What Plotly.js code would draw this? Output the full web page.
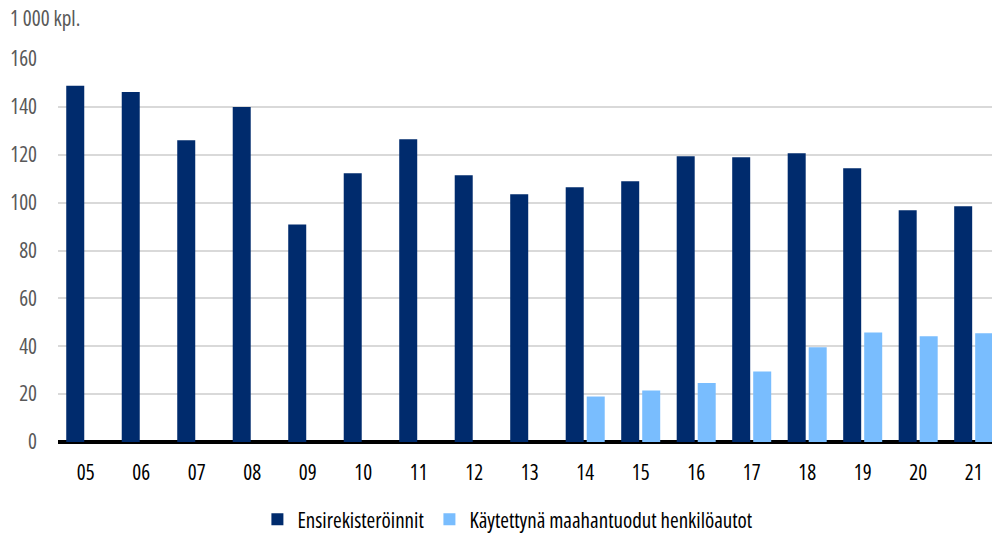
<!DOCTYPE html>
<html>
<head>
<meta charset="utf-8">
<script src="https://cdn.plot.ly/plotly-3.0.1.min.js"></script>
<style>
  html, body { margin: 0; padding: 0; background: #fff; }
  #chart { width: 992px; height: 533px; }
  svg text { font-stretch: condensed !important; }
</style>
</head>
<body>
<div id="chart"></div>
<script>
const years = ["05","06","07","08","09","10","11","12","13","14","15","16","17","18","19","20","21"];
const ensirekisteroinnit = [148.8,146.2,126.1,139.9,90.9,112.3,126.5,111.4,103.5,106.4,108.9,119.4,119.0,120.6,114.4,96.8,98.5];
const kaytettyna = [null,null,null,null,null,null,null,null,null,19.0,21.5,24.6,29.5,39.6,45.7,44.2,45.4];
const seriesNames = ["Ensirekisteröinnit", "Käytettynä maahantuodut henkilöautot"];
const yTicks = [0,20,40,60,80,100,120,140,160];
const unitLabel = "1 000 kpl.";

const FONT = '"Open Sans", "DejaVu Sans Condensed", sans-serif';

const data = [
  { type: "bar", x: years, y: ensirekisteroinnit, name: seriesNames[0],
    marker: { color: "#002b6d" }, hoverinfo: "x+y+name" },
  { type: "bar", x: years, y: kaytettyna, name: seriesNames[1],
    marker: { color: "#79bdfe" }, hoverinfo: "x+y+name" }
];

const layout = {
  width: 992, height: 533,
  margin: { l: 58, r: 0, t: 59, b: 91, pad: 0 },
  paper_bgcolor: "#ffffff", plot_bgcolor: "#ffffff",
  font: { family: FONT, size: 21, color: "#000000" },
  barmode: "group",
  bargap: 0.243,
  bargroupgap: 0.143,
  showlegend: true,
  legend: {
    orientation: "h", xref: "container", yref: "container",
    x: 0.512, xanchor: "center", y: 0.025, yanchor: "middle",
    font: { family: FONT, size: 21, color: "#000000" },
    itemwidth: 30, tracegroupgap: 0, traceorder: "normal"
  },
  xaxis: {
    type: "category",
    range: [-0.5, 16.33],
    showgrid: false, zeroline: false,
    showline: false, ticks: "",
    ticklabelstandoff: 16,
    tickfont: { family: FONT, size: 21, color: "#000000" },
    fixedrange: true
  },
  yaxis: {
    range: [0, 160],
    tickvals: yTicks,
    ticktext: yTicks.map(String),
    showgrid: true, gridcolor: "#d9d9d9", gridwidth: 2,
    zeroline: true, zerolinecolor: "#000000", zerolinewidth: 4,
    showline: false, ticks: "",
    ticklabelstandoff: 20,
    tickfont: { family: FONT, size: 21, color: "#595959" },
    fixedrange: true
  },
  annotations: [{
    text: unitLabel, xref: "paper", yref: "paper",
    x: -58/934 + 8/934, y: 1 + 41/383, xanchor: "left", yanchor: "middle",
    showarrow: false, font: { family: FONT, size: 21, color: "#595959" }
  }]
};

Plotly.newPlot("chart", data, layout, { displayModeBar: false, staticPlot: true });
</script>
</body>
</html>
